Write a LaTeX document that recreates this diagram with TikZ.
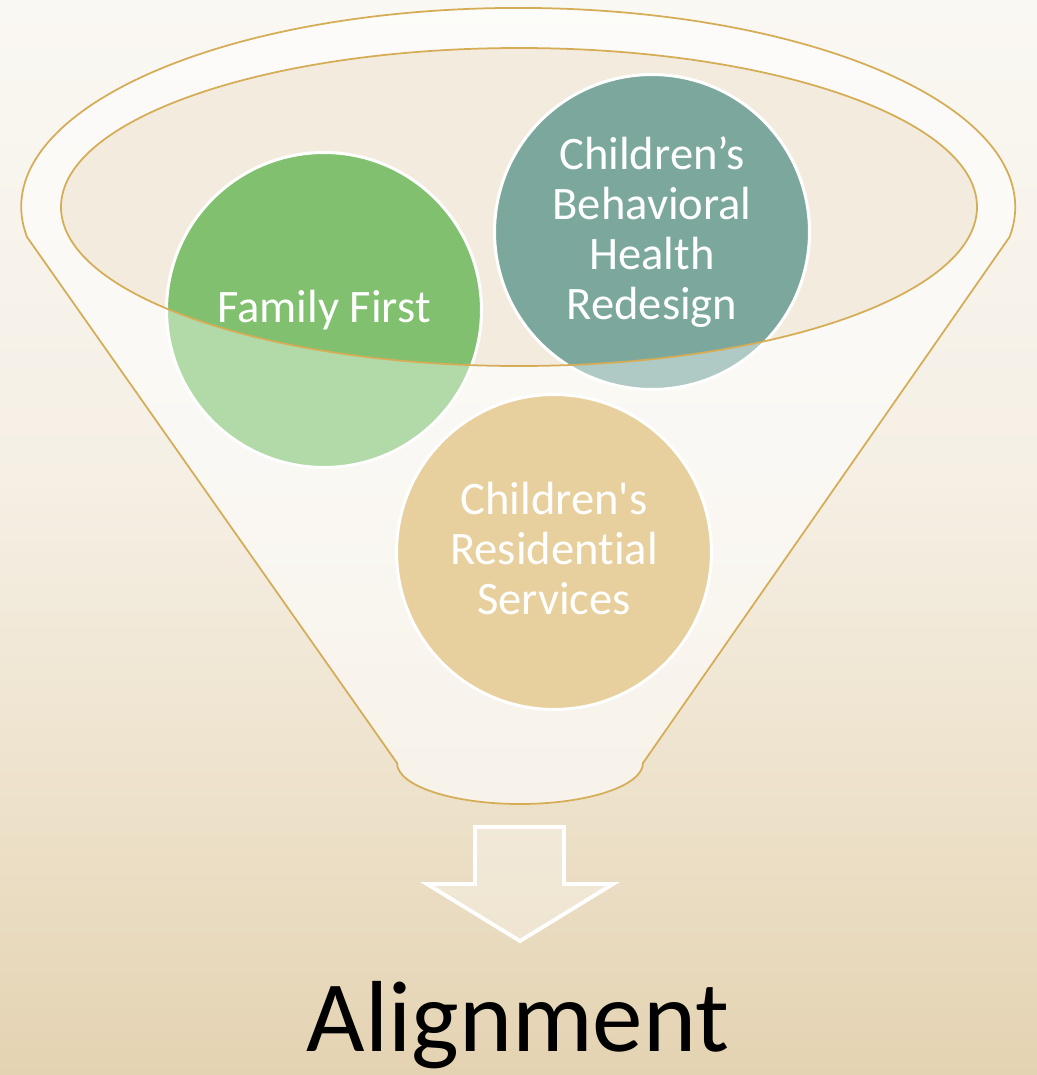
\documentclass[tikz,border=0pt]{standalone}
\usepackage{fontspec}
\setmainfont{Carlito}[Ligatures={TeX,NoCommon}]
\usepackage{tikz}
\definecolor{gold}{HTML}{D6AD57}
\definecolor{famgreen}{HTML}{80C06E}
\definecolor{behavteal}{HTML}{7BA79D}
\definecolor{residtan}{HTML}{E8D09E}
\definecolor{mouthfill}{HTML}{F3EBDE}
\definecolor{bgtop}{HTML}{FAF8F3}
\definecolor{bgmid}{HTML}{F5EFE4}
\definecolor{bglow}{HTML}{EDE1CA}
\definecolor{bgbottom}{HTML}{E4D3B2}
\pgfdeclareverticalshading{bgshade}{100bp}{color(0bp)=(bgbottom); color(25bp)=(bgbottom); color(37.5bp)=(bglow); color(52.5bp)=(bgmid); color(75bp)=(bgtop); color(100bp)=(bgtop)}
\tikzset{
stage/.style = {circle, fill=#1, draw=white, line width=1.7pt, minimum size=6.3cm,
  inner sep=0pt, text=white, align=center, font=\fontsize{26.5}{28.5}\selectfont},
stage/.default = famgreen, % colour of the disc
funnelline/.style = {draw=gold, line width=1pt},
}

\begin{document}
\begin{tikzpicture}[x=0.02cm, y=-0.02cm]
    \useasboundingbox (0,0) rectangle (1036,1075);
    % background
    \shade[shading=bgshade] (-2,-2) rectangle (1038,1077);
    % funnel body and mouth
    \fill[white, fill opacity=0.33] (27,237) arc[start angle=171.3, end angle=368.7, x radius=497, y radius=199]
        -- (643,763) arc[start angle=0, end angle=180, x radius=123, y radius=41] -- cycle;
    \fill[mouthfill] (519,207) ellipse[x radius=458, y radius=159];
    % the two upper stages
    \node[stage=famgreen] (famfirst) at (324,310) {Family First};
    \node[stage=behavteal] (behav) at (652,232) {Children’s\\Behavioral\\Health\\Redesign};
    % front of the funnel, below the mouth
    \fill[white, fill opacity=0.4, even odd rule] (27,237) arc[start angle=171.3, end angle=368.7, x radius=497, y radius=199]
        -- (643,763) arc[start angle=0, end angle=180, x radius=123, y radius=41] -- cycle
        (519,207) ellipse[x radius=458, y radius=159];
    \draw[funnelline] (27,237) arc[start angle=171.3, end angle=368.7, x radius=497, y radius=199]
        -- (643,763) arc[start angle=0, end angle=180, x radius=123, y radius=41] -- cycle;
    \draw[funnelline] (519,207) ellipse[x radius=458, y radius=159];
    % lower stage
    \node[stage=residtan] (resid) at (554,552) {Children\textquotesingle s\\Residential\\Services\vphantom{g}};
    % arrow and result
    \draw[white, line width=2.2pt, fill=white, fill opacity=0.3, draw opacity=1]
        (475,827) -- (564,827) -- (564,884) -- (613,884) -- (520,941) -- (427,884) -- (475,884) -- cycle;
    \node[anchor=base, font=\fontsize{57.5}{60}\selectfont] (align) at (518,1051) {Alignment};
\end{tikzpicture}
\end{document}
